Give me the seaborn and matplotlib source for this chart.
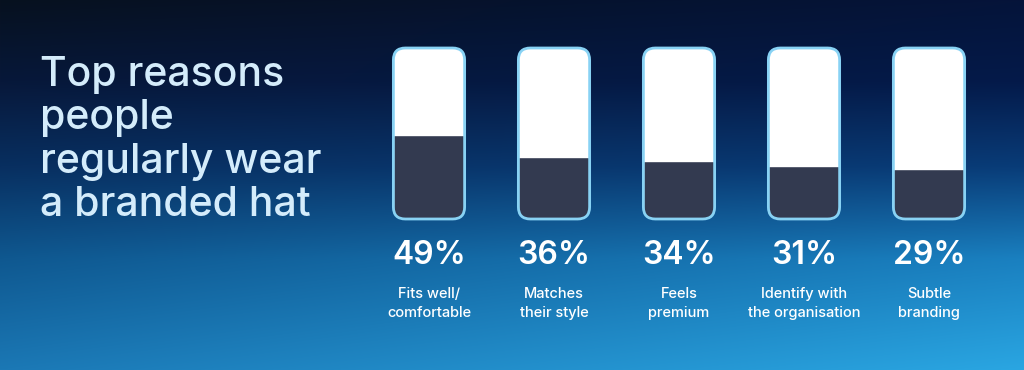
import numpy as np
import matplotlib
matplotlib.use("Agg")
import matplotlib.pyplot as plt
import matplotlib.colors as mcolors
from matplotlib.patches import FancyBboxPatch
import seaborn as sns

# ---- data ----
categories = ["Fits well/\ncomfortable", "Matches\ntheir style", "Feels\npremium",
              "Identify with\nthe organisation", "Subtle\nbranding"]
values = [49, 36, 34, 31, 29]
pct_labels = ["49%", "36%", "34%", "31%", "29%"]
title = "Top reasons\npeople\nregularly wear\na branded hat"

sns.set_theme(style="white")
plt.rcParams["font.family"] = ["Inter", "DejaVu Sans"]

W, H = 1024, 370
fig = plt.figure(figsize=(W / 100, H / 100), dpi=100)

# ---- background gradient ----
bg = fig.add_axes([0, 0, 1, 1])
bg.set_axis_off()
def ramp(stops, n):
    pos = np.array([s[0] for s in stops])
    cols = np.array([mcolors.to_rgb(s[1]) for s in stops])
    t = np.linspace(0, 1, n)
    return np.stack([np.interp(t, pos, cols[:, k]) for k in range(3)], axis=1)
left = ramp([(0, "#07111f"), (0.22, "#07183a"), (0.45, "#082f60"), (0.7, "#0f5890"), (1, "#1b78b5")], H)
right = ramp([(0, "#05143a"), (0.22, "#041a4a"), (0.45, "#093c78"), (0.7, "#1a80c0"), (1, "#2aa6e2")], H)
u = np.linspace(0, 1, W)[None, :, None]
img = left[:, None, :] * (1 - u) + right[:, None, :] * u
bg.imshow(img, aspect="auto", extent=[0, 1, 0, 1], origin="upper")
bg.set_xlim(0, 1); bg.set_ylim(0, 1)

# ---- title ----
fig.text(40 / W, 1 - 56 / H, title, color="#d4ecfb", fontsize=29.5, fontweight="medium",
         va="top", ha="left", linespacing=1.18)

# ---- tubes ----
ax_l, ax_r = 366.5, 991.5
ax_b, ax_t = 219, 48
ax = fig.add_axes([ax_l / W, 1 - ax_b / H, (ax_r - ax_l) / W, (ax_b - ax_t) / H])
ax.patch.set_alpha(0)
full = [100] * len(values)
bar_w = 0.57
sns.barplot(x=categories, y=full, color="white", width=bar_w, ax=ax, saturation=1)
sns.barplot(x=categories, y=values, color="#333a50", width=bar_w, ax=ax, saturation=1)
ax.set_xlim(-0.5, len(values) - 0.5)
ax.set_ylim(0, 100)
ax.set_axis_off()

x_per_px = 1 / 125.0
y_per_px = 100 / (ax_b - ax_t)
aspect = y_per_px / x_per_px
r_px = 12
n = len(values)
for i in range(n):
    x0 = i - bar_w / 2
    tube = FancyBboxPatch((x0, 0), bar_w, 100,
                          boxstyle=f"round,pad=0,rounding_size={r_px * x_per_px}",
                          mutation_aspect=aspect, facecolor="none",
                          edgecolor="#88d2f4", linewidth=2.0, transform=ax.transData,
                          clip_on=False, zorder=5)
    ax.add_patch(tube)
    for p in (ax.patches[i], ax.patches[n + i]):
        p.set_clip_path(tube)

# ---- labels ----
for i in range(n):
    xc = (ax_l + (i + 0.5) * 125) / W
    fig.text(xc, 1 - 255 / H, pct_labels[i], color="white", fontsize=23,
             fontweight="semibold", ha="center", va="center")
    fig.text(xc, 1 - 303.5 / H, categories[i], color="white", fontsize=10.5,
             fontweight="medium", ha="center", va="center", linespacing=1.5)

fig.savefig("out.png", dpi=100)
